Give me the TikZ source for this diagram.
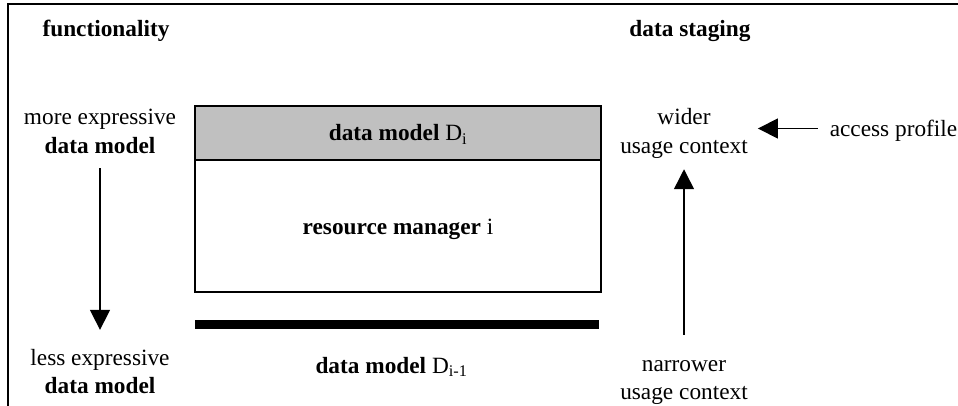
\documentclass[tikz,border=0pt]{standalone}
\usepackage{fontspec}
\setmainfont{Liberation Serif}
\usetikzlibrary{arrows.meta}
\definecolor{hdrgray}{RGB}{192,192,192}
\newcommand\twolines[2]{\begin{tabular}[t]{@{}c@{}}#1\\#2\end{tabular}}
\begin{document}
\begin{tikzpicture}[x=1pt,y=-1pt,
  every node/.style={font=\fontsize{23.3pt}{28.5pt}\selectfont, inner sep=0pt},
  bold/.style={font=\fontsize{23.3pt}{28.5pt}\selectfont\bfseries},
  frame/.style={line width=2pt},
  boxpart/.style={draw, line width=1.5pt, minimum width=406pt, text height=16pt, text depth=0pt},
  hdr/.style={boxpart, fill=hdrgray, minimum height=54pt},
  rmbox/.style={boxpart, minimum height=132pt},
  bar/.style={fill=black, minimum width=404pt, minimum height=9pt},
  arr/.style={line width=1.5pt, -{Triangle[length=20pt,width=20pt]}}]
\useasboundingbox (0,0) rectangle (958,406);
\draw[frame] (8,406) -- (8,4) -- (958,4);
\node[bold, anchor=base] (func) at (106,37) {functionality};
\node[bold, anchor=base] (stag) at (690,37) {data staging};
\node[anchor=base] (more) at (100,125) {\twolines{more expressive}{\bfseries data model}};
\node[anchor=base] (less) at (100,365) {\twolines{less expressive}{\bfseries data model}};
\node[anchor=base] (wider) at (684,125) {\twolines{wider}{usage context}};
\node[anchor=base] (narrow) at (684,371) {\twolines{narrower}{usage context}};
\node[anchor=base] (access) at (893.5,137) {access profile};
\node[hdr] (dmi) at (398,133) {\bfseries data model \mdseries D\textsubscript{i}};
\node[rmbox] (rm) at (398,226) {\bfseries resource manager \mdseries i};
\node[bar] (bar) at (397,324.5) {};
\node[anchor=base] (dmprev) at (391.5,373) {\bfseries data model \mdseries D\textsubscript{i-1}};
\coordinate (ap) at ([yshift=8.5pt]access.base west);
\draw[arr, shorten <=6pt, shorten >=15pt] (more) -- (less);
\draw[arr, shorten <=16pt, shorten >=7pt] (narrow) -- (wider);
\draw[arr, shorten <=12pt, shorten >=10pt] (ap) -- (ap -| wider.east);
\end{tikzpicture}
\end{document}
